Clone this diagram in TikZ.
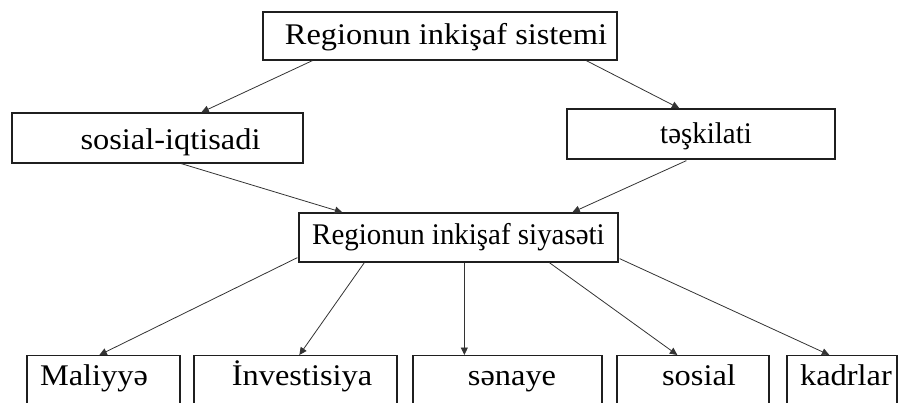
\documentclass[tikz,border=0pt]{standalone}
\usepackage{fontspec}
\usepackage{graphicx}
\setmainfont{Liberation Serif}[FakeStretch=1.08]
\usetikzlibrary{arrows.meta,calc}

\newcommand{\narrow}[1]{\scalebox{0.893}[1]{#1}}

\tikzset{
  box/.style={draw=black!88, line width=1.3pt, inner sep=0pt, fill=white,
    font=\fontsize{30}{36}\selectfont},
  lowbox/.style={box, anchor=north, text height=21pt, text depth=70pt, inner ysep=9pt},
  link/.style={draw=black!80, line width=0.8pt,
    -{Triangle[length=7.5pt,width=7pt]}}
}

\begin{document}
\begin{tikzpicture}[x=1pt,y=-1pt]
  \useasboundingbox (0,0) rectangle (902,403);
  \clip (0,0) rectangle (902,403);

  % upper tiers: text height + depth give each box its height
  \node[box, minimum width=354pt, text height=33pt, text depth=15pt] (sys) at (440,36)
    {\hspace*{12pt}Regionun inkişaf sistemi};
  \node[box, minimum width=291pt, text height=37pt, text depth=13pt] (soc) at (157.5,138)
    {\hspace*{26pt}sosial-iqtisadi};
  \node[box, minimum width=268pt, text height=35pt, text depth=15pt] (org) at (701,134)
    {\hspace*{10pt}\narrow{təşkilati}};
  \node[box, minimum width=319pt, text height=32pt, text depth=17pt] (pol) at (458.5,237.5)
    {\narrow{Regionun inkişaf siyasəti}};

  % lower tier, running off the bottom edge
  \node[lowbox, minimum width=153pt] (fin) at (103.5,355) {Maliyyə\hspace*{19pt}};
  \node[lowbox, minimum width=203pt] (inv) at (295.5,355) {\hspace*{13pt}İnvestisiya};
  \node[lowbox, minimum width=189pt] (ind) at (507.5,355) {\hspace*{9pt}sənaye};
  \node[lowbox, minimum width=152pt] (sos) at (693,355) {\hspace*{12pt}sosial};
  \node[lowbox, minimum width=110pt] (kad) at (842,355) {\hspace*{8pt}kadrlar};

  % connectors
  \draw[link] ($(sys.south west)+(50,0)$) -- ($(soc.north west)+(190,0)$);
  \draw[link] ($(sys.south west)+(324,0)$) -- ($(org.north west)+(113,0)$);
  \draw[link] ($(soc.south west)+(170,0)$) -- ($(pol.north west)+(44,0)$);
  \draw[link] ($(org.south west)+(120,1)$) -- ($(pol.north west)+(274,0)$);
  \draw[link] ($(pol.south west)+(-1,-5)$) -- ($(fin.north west)+(73,0)$);
  \draw[link] ($(pol.south west)+(66,0)$) -- ($(inv.north west)+(106,0)$);
  \draw[link] ($(pol.south west)+(166,0)$) -- ($(ind.north west)+(52,0)$);
  \draw[link] ($(pol.south west)+(251,0)$) -- ($(sos.north west)+(61,0)$);
  \draw[link] ($(pol.south east)+(1,-4)$) -- ($(kad.north west)+(43,0)$);
\end{tikzpicture}
\end{document}
